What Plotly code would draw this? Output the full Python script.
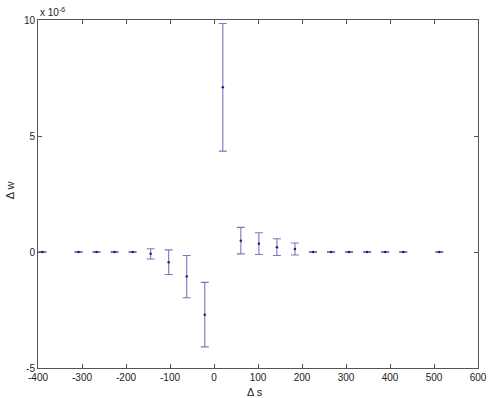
import plotly.graph_objects as go

# Data (delta w in units of 1e-6)
ds = [-390, -308, -267, -226, -185, -144, -103, -62, -21, 20, 61, 102, 143, 184,
      225, 266, 307, 348, 389, 430, 512]
dw = [0.0, 0.0, 0.0, 0.0, 0.0, -0.08, -0.44, -1.06, -2.70, 7.10, 0.49, 0.36, 0.21, 0.13,
      0.0, 0.0, 0.0, 0.0, 0.0, 0.0, 0.0]
err = [0.02, 0.02, 0.02, 0.02, 0.02, 0.22, 0.53, 0.91, 1.39, 2.75, 0.57, 0.47, 0.36, 0.26,
       0.02, 0.02, 0.02, 0.02, 0.02, 0.02, 0.02]
scale = 1e-6
x_ticks = [-400, -300, -200, -100, 0, 100, 200, 300, 400, 500, 600]
y_ticks = [-5, 0, 5, 10]

fig = go.Figure()
fig.add_trace(go.Scatter(
    x=ds, y=[v * scale for v in dw], mode="markers",
    marker=dict(size=2.5, color="#1e1e78"),
    error_y=dict(type="data", array=[e * scale for e in err], visible=True,
                 color="#7579bd", thickness=1.1, width=4),
    showlegend=False,
))

axis_common = dict(showline=True, linecolor="#555555", linewidth=1, mirror="ticks",
                   ticks="inside", ticklen=4, tickcolor="#555555", showgrid=False,
                   zeroline=False, automargin=False,
                   tickfont=dict(size=10, color="#222222"))

fig.update_layout(
    width=491, height=398,
    margin=dict(l=38, r=13, t=20, b=30),
    paper_bgcolor="white", plot_bgcolor="white",
    font=dict(family="Liberation Sans, Arial, sans-serif", size=10, color="#222222"),
    xaxis=dict(range=[-400, 600], tickvals=x_ticks, ticktext=[str(t) for t in x_ticks],
               **axis_common),
    yaxis=dict(range=[-5 * scale, 10 * scale], tickvals=[t * scale for t in y_ticks],
               ticktext=[str(t) for t in y_ticks], **axis_common),
    annotations=[
        dict(text="x 10<sup>-6</sup>", xref="paper", yref="paper", x=0.0, y=1.0,
             xanchor="left", yanchor="bottom", showarrow=False,
             font=dict(size=10, color="#222222")),
        dict(text="Δ s", xref="paper", yref="paper", x=0.493, y=-0.069,
             xanchor="center", yanchor="middle", showarrow=False,
             font=dict(size=11, color="#222222")),
        dict(text="Δ w", xref="paper", yref="paper", x=-0.064, y=0.51,
             xanchor="center", yanchor="middle", showarrow=False, textangle=-90,
             font=dict(size=11, color="#222222")),
    ],
)

fig.write_html("out.html", config={"displayModeBar": False},
               post_script="document.body.style.margin='0';document.body.style.overflow='hidden';")
